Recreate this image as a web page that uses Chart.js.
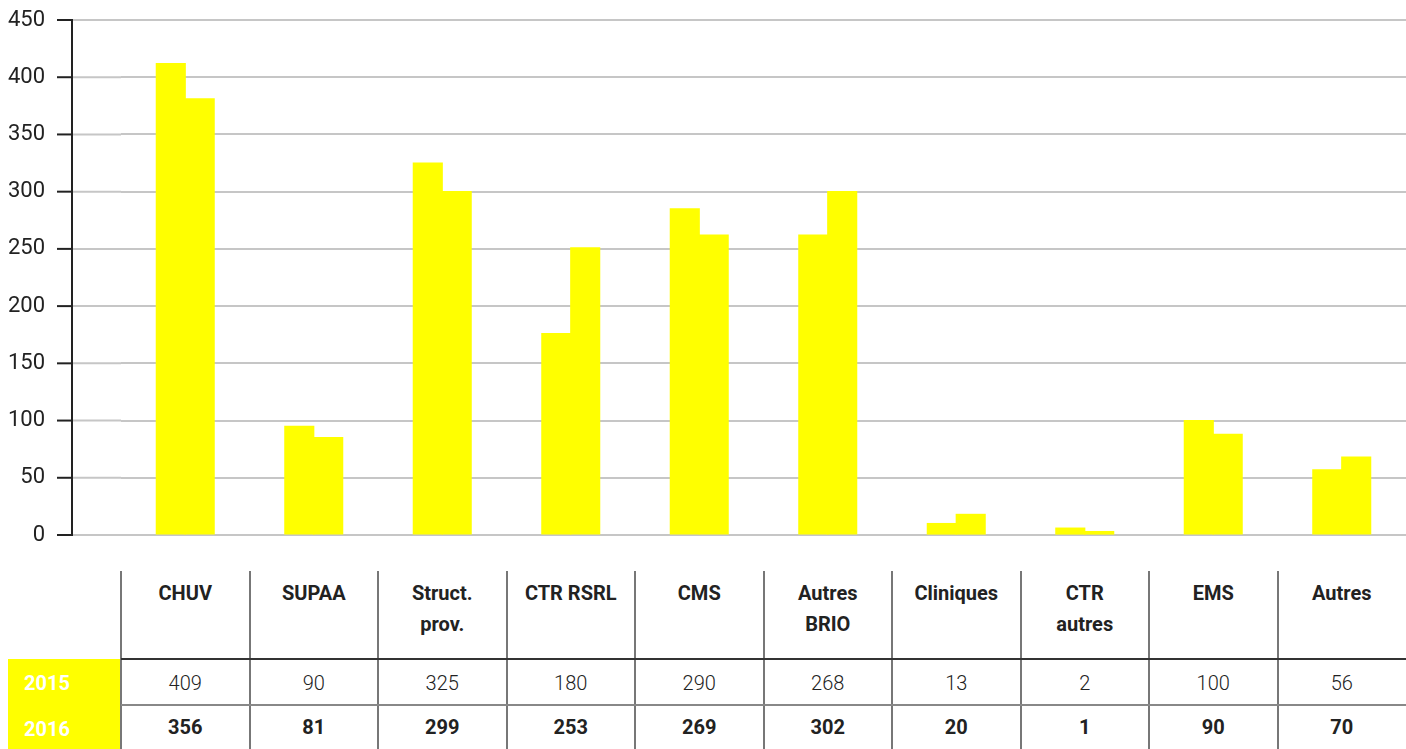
<!DOCTYPE html>
<html>
<head>
<meta charset="utf-8">
<script src="https://cdn.jsdelivr.net/npm/chart.js"></script>
<style>
body { margin: 0; background: #fff; font-family: Roboto, sans-serif; }
#wrap { position: absolute; left: 0; top: 0; width: 1406px; height: 560px; }
.t { position: absolute; text-align: center; color: #222; font-size: 20px; }
.ln { position: absolute; }
</style>
</head>
<body>
<div id="wrap"><canvas id="myDiagram" width="1406" height="560"></canvas></div>
<div id="table"></div>
<script>
// categories (table header lines)
const categories = [['CHUV'], ['SUPAA'], ['Struct.', 'prov.'], ['CTR RSRL'], ['CMS'],
    ['Autres', 'BRIO'], ['Cliniques'], ['CTR', 'autres'], ['EMS'], ['Autres']];
const years = ['2015', '2016'];
// bar heights as drawn in the picture
const bars2015 = [412, 95, 325, 176, 285, 262, 10, 6, 100, 57];
const bars2016 = [381, 85, 300, 251, 262, 300, 18, 3, 88, 68];
// numbers printed in the table
const table2015 = [409, 90, 325, 180, 290, 268, 13, 2, 100, 56];
const table2016 = [356, 81, 299, 253, 269, 302, 20, 1, 90, 70];
const yTicks = [0, 50, 100, 150, 200, 250, 300, 350, 400, 450];

const AXIS_X = 72;

// y axis line + tick marks left of the plot area
const axisPlugin = {
    id: 'axisLine',
    afterDraw(chart) {
        const y = chart.scales.y, ctx = chart.ctx, left = chart.chartArea.left;
        ctx.save();
        ctx.lineWidth = 2;
        yTicks.forEach(v => {
            const py = y.getPixelForValue(v);
            ctx.strokeStyle = '#c6c6c6';
            ctx.beginPath(); ctx.moveTo(AXIS_X, py); ctx.lineTo(left, py); ctx.stroke();
            ctx.strokeStyle = '#222';
            ctx.beginPath(); ctx.moveTo(AXIS_X - 15, py); ctx.lineTo(AXIS_X, py); ctx.stroke();
        });
        ctx.strokeStyle = '#222';
        ctx.beginPath(); ctx.moveTo(AXIS_X, y.top - 1); ctx.lineTo(AXIS_X, y.bottom + 1); ctx.stroke();
        ctx.restore();
    }
};

const ctx = document.getElementById('myDiagram').getContext('2d');
const myChart = new Chart(ctx, {
    type: 'bar',
    data: {
        labels: categories.map(c => c.join(' ')),
        datasets: [{
            label: years[0],
            data: bars2015,
            backgroundColor: '#ffff00',
            borderWidth: 0,
            inflateAmount: 0.6
        }, {
            label: years[1],
            data: bars2016,
            backgroundColor: '#ffff00',
            borderWidth: 0,
            inflateAmount: 0.6
        }]
    },
    options: {
        responsive: false,
        animation: false,
        categoryPercentage: 0.45,
        barPercentage: 1.0,
        plugins: {
            legend: { display: false },
            tooltip: { enabled: false }
        },
        layout: {
            padding: { top: 20, bottom: 25, left: 0, right: 0 }
        },
        scales: {
            x: { display: false },
            y: {
                min: 0,
                max: 450,
                afterBuildTicks: s => { s.ticks = yTicks.map(v => ({ value: v })); },
                afterFit: s => { s.width = 121; s.paddingTop = 10; s.paddingBottom = 10; },
                border: { display: false },
                grid: { color: '#c6c6c6', lineWidth: 2, drawTicks: false },
                ticks: {
                    padding: 76,
                    color: '#222',
                    font: { family: 'Roboto', size: 22 }
                }
            }
        }
    },
    plugins: [axisPlugin]
});

// table under the chart, columns aligned with the x scale
const tbl = document.getElementById('table');
const xs = myChart.scales.x;
const colW = (xs.right - xs.left) / categories.length;
const TOP = 571, HEAD = 659, MID = 705, BOT = 749;

function add(cls, style, text, html) {
    const d = document.createElement('div');
    d.className = cls;
    Object.assign(d.style, style);
    if (html) d.innerHTML = html; else if (text) d.textContent = text;
    tbl.appendChild(d);
    return d;
}

add('ln', { left: '8px', top: HEAD + 'px', width: (xs.left - 8) + 'px', height: (BOT - HEAD) + 'px', background: '#ffff00' });
years.forEach((yr, r) => {
    add('t', { left: '24px', top: (r ? MID : HEAD) + 'px', height: (r ? BOT - MID : MID - HEAD) + 'px',
        lineHeight: (r ? BOT - MID + 4 : MID - HEAD + 2) + 'px', color: '#fff', fontWeight: 'bold', textAlign: 'left' }, yr);
});

categories.forEach((c, i) => {
    const l = xs.left + i * colW;
    add('ln', { left: (l - 1) + 'px', top: TOP + 'px', width: '2px', height: (BOT - TOP) + 'px', background: '#777' });
    add('t', { left: l + 'px', top: (TOP + 7) + 'px', width: colW + 'px', lineHeight: '31px', fontWeight: 'bold' }, null, c.join('<br>'));
    add('t', { left: l + 'px', top: HEAD + 'px', width: colW + 'px', height: (MID - HEAD) + 'px', lineHeight: (MID - HEAD + 2) + 'px', fontWeight: 300 }, String(table2015[i]));
    add('t', { left: l + 'px', top: MID + 'px', width: colW + 'px', height: (BOT - MID) + 'px', lineHeight: (BOT - MID) + 'px', fontWeight: 'bold' }, String(table2016[i]));
});
add('ln', { left: xs.left + 'px', top: (HEAD - 1) + 'px', width: (1406 - xs.left) + 'px', height: '2px', background: '#333' });
add('ln', { left: xs.left + 'px', top: (MID - 1) + 'px', width: (1406 - xs.left) + 'px', height: '2px', background: '#888' });
</script>
</body>
</html>
